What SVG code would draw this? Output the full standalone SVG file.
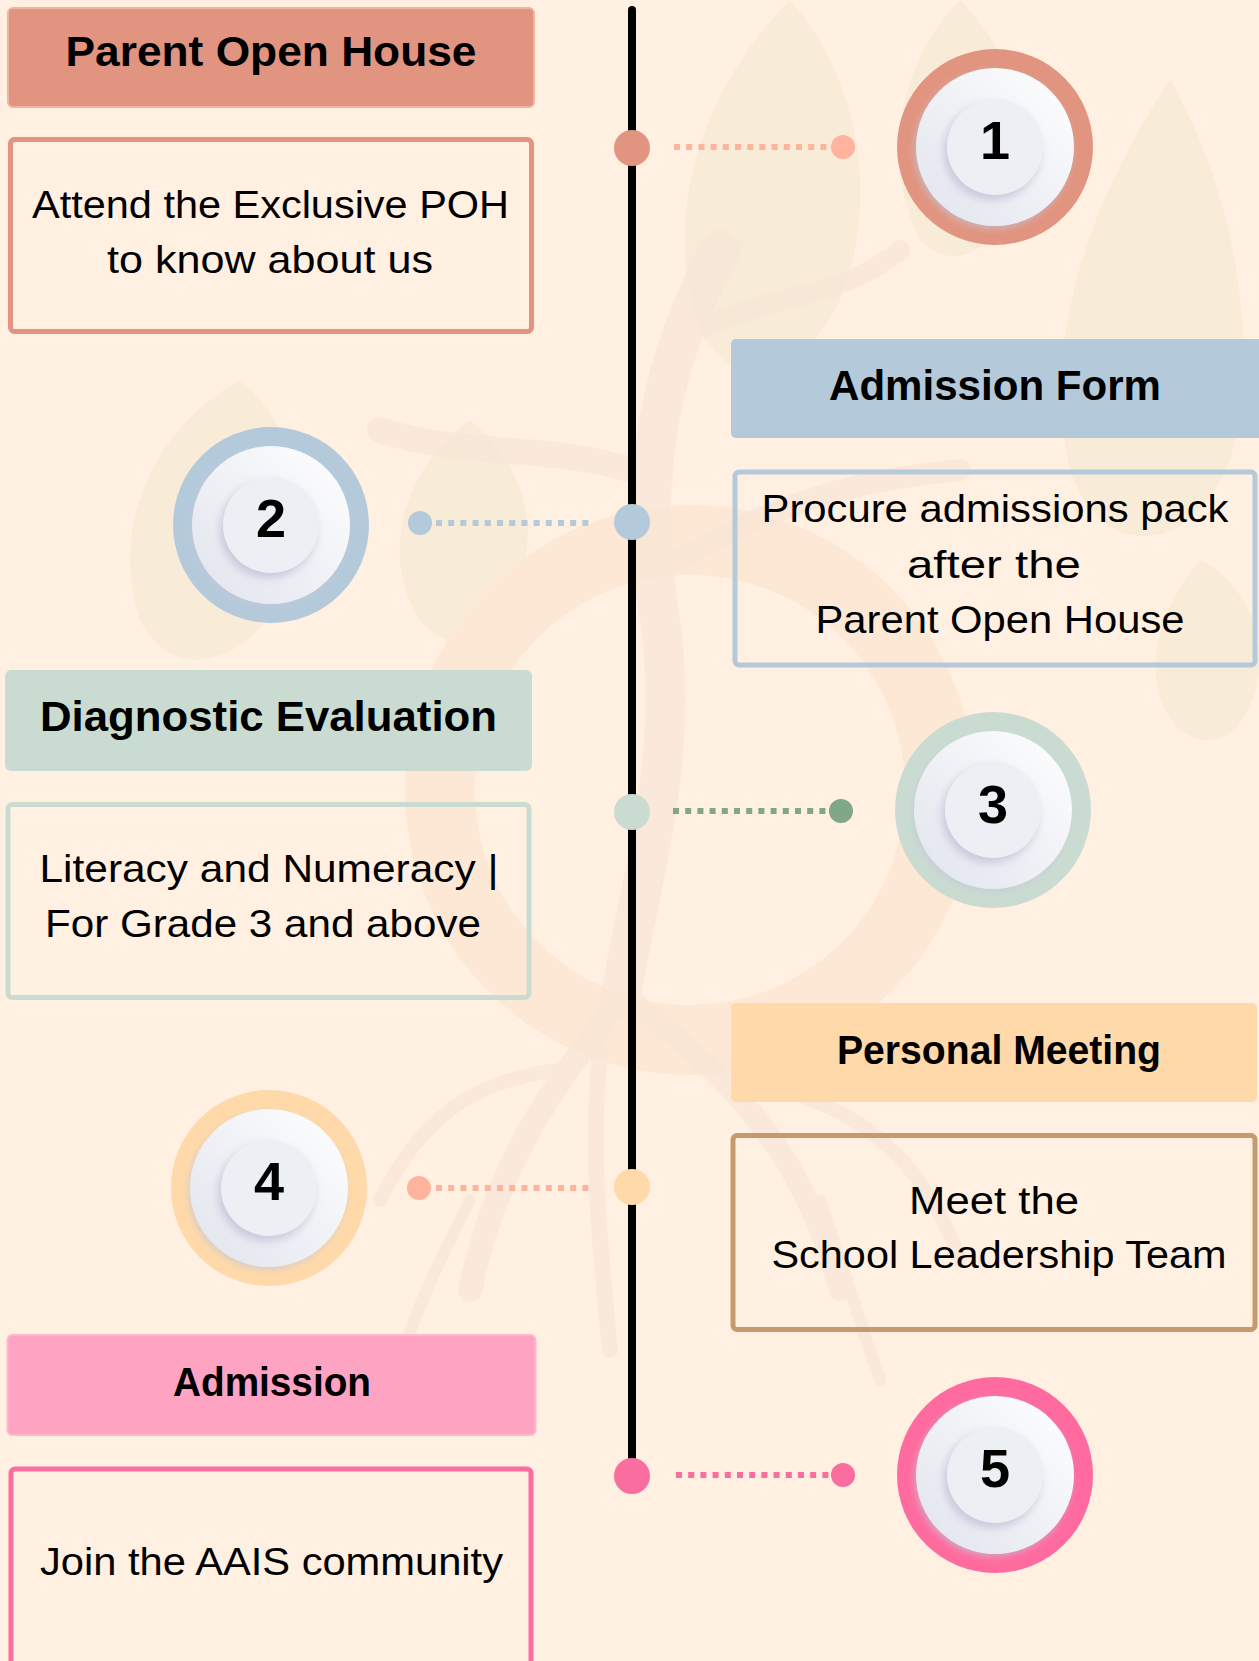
<svg xmlns="http://www.w3.org/2000/svg" width="1259" height="1661" viewBox="0 0 1259 1661">
  <style>
    .hdr { font-family: "Liberation Sans", Arial, sans-serif; font-weight: bold; fill: #000; text-anchor: middle; }
    .body { font-family: "Liberation Sans", Arial, sans-serif; font-size: 39px; fill: #000; text-anchor: middle; }
    .num { font-family: "Liberation Sans", Arial, sans-serif; font-weight: bold; font-size: 54px; fill: #000; text-anchor: middle; }
    .box { fill: none; stroke-width: 5; }
    .dotted { fill: none; stroke-width: 6; stroke-dasharray: 6 6.2; }
    .leaf { fill: #F6EAD4; }
    .trunk { fill: none; stroke: #F5E2D3; stroke-linecap: round; }
  </style>
  <defs>
    <linearGradient id="plate" x1="1" y1="0" x2="0" y2="1">
      <stop offset="0" stop-color="#FFFFFF"/>
      <stop offset="0.55" stop-color="#EEF0F5"/>
      <stop offset="1" stop-color="#E2E4EE"/>
    </linearGradient>
    <filter id="sh" x="-30%" y="-30%" width="160%" height="160%">
      <feDropShadow dx="-3" dy="5" stdDeviation="5" flood-color="#B9BCD2" flood-opacity="0.75"/>
    </filter>
    <filter id="sh2" x="-30%" y="-30%" width="160%" height="160%">
      <feDropShadow dx="-2" dy="3" stdDeviation="3" flood-color="#C3C6D8" flood-opacity="0.6"/>
    </filter>
  </defs>

  <!-- background -->
  <rect x="0" y="0" width="1259" height="1661" fill="#FFF0E1"/>
  <g id="background-tree" opacity="0.75">
    <path class="leaf" d="M790 0 C700 90 660 220 700 330 C740 400 800 380 840 300 C880 200 860 80 790 0 Z"/>
    <path class="leaf" d="M1170 80 C1090 200 1040 340 1070 470 C1100 560 1190 560 1230 460 C1260 360 1240 200 1170 80 Z"/>
    <path class="leaf" d="M960 0 C900 60 880 160 920 240 C960 280 1010 240 1020 170 C1030 100 1000 40 960 0 Z"/>
    <path class="leaf" d="M240 380 C150 430 110 530 140 620 C170 680 240 670 280 600 C320 520 300 430 240 380 Z"/>
    <path class="leaf" d="M470 420 C400 470 380 560 420 620 C450 660 500 640 520 580 C540 520 520 460 470 420 Z"/>
    <path class="leaf" d="M1200 560 C1150 620 1140 690 1180 730 C1220 760 1259 720 1259 660 C1259 620 1240 580 1200 560 Z"/>
    <circle cx="690" cy="790" r="250" fill="none" stroke="#FCE6D2" stroke-width="70"/>
    <g opacity="0.7">
      <path class="trunk" stroke-width="40" d="M720 250 C650 380 640 500 660 620 C680 760 640 880 620 1000"/>
      <path class="trunk" stroke-width="26" d="M660 480 C560 440 470 460 380 430"/>
      <path class="trunk" stroke-width="22" d="M680 560 C780 500 860 480 960 470"/>
      <path class="trunk" stroke-width="20" d="M700 330 C780 290 840 300 900 250"/>
      <path class="trunk" stroke-width="24" d="M620 1000 C560 1080 500 1150 470 1290"/>
      <path class="trunk" stroke-width="22" d="M630 1000 C720 1070 800 1140 840 1290"/>
      <path class="trunk" stroke-width="14" d="M560 1070 C470 1080 420 1120 380 1200"/>
      <path class="trunk" stroke-width="14" d="M740 1080 C850 1100 920 1150 960 1260"/>
      <path class="trunk" stroke-width="12" d="M470 1200 C440 1260 420 1300 400 1360"/>
      <path class="trunk" stroke-width="12" d="M820 1200 C840 1260 860 1320 880 1380"/>
      <path class="trunk" stroke-width="16" d="M600 1050 C590 1150 600 1250 610 1350"/>
    </g>
  </g>

  <!-- connectors -->
  <g id="connectors">
    <line x1="632" y1="10" x2="632" y2="1475" stroke="#000" stroke-width="8" stroke-linecap="round"/>
    <line class="dotted" x1="674" y1="147" x2="830" y2="147" stroke="#FFB29C"/>
    <circle cx="843" cy="147" r="12" fill="#FFB29C"/>
    <circle cx="632" cy="148" r="18" fill="#E19580"/>

    <line class="dotted" x1="436" y1="523" x2="590" y2="523" stroke="#B4CADB"/>
    <circle cx="420" cy="523" r="12" fill="#B4CADB"/>
    <circle cx="632" cy="522" r="18" fill="#B4CADB"/>

    <line class="dotted" x1="673" y1="811" x2="828" y2="811" stroke="#7FA788"/>
    <circle cx="841" cy="811" r="12" fill="#7FA788"/>
    <circle cx="632" cy="812" r="18" fill="#CADCD1"/>

    <line class="dotted" x1="436" y1="1188" x2="590" y2="1188" stroke="#FFB29C"/>
    <circle cx="419" cy="1188" r="12" fill="#FFB29C"/>
    <circle cx="632" cy="1187" r="18" fill="#FFD9A9"/>

    <line class="dotted" x1="676" y1="1475" x2="830" y2="1475" stroke="#FA6E9F"/>
    <circle cx="843" cy="1475" r="12" fill="#FA6E9F"/>
    <circle cx="632" cy="1476" r="18" fill="#FA6E9F"/>
  </g>

  <!-- step 1 -->
  <g id="step1-header">
    <rect x="8" y="8" width="526" height="99" rx="5" fill="#E19580" stroke="#F2B3A5" stroke-width="2"/>
    <text class="hdr" x="271" y="66" font-size="42" textLength="411" lengthAdjust="spacingAndGlyphs">Parent Open House</text>
  </g>
  <g id="step1-body">
    <rect class="box" x="10.5" y="139.5" width="521" height="192" rx="4" stroke="#E19580"/>
    <text class="body" x="270.5" y="218" textLength="477" lengthAdjust="spacingAndGlyphs">Attend the Exclusive POH</text>
    <text class="body" x="270" y="273" textLength="326" lengthAdjust="spacingAndGlyphs">to know about us</text>
  </g>
  <g id="step1-circle">
    <circle cx="995" cy="147" r="98" fill="#E19580"/>
    <circle cx="995" cy="147" r="79" fill="url(#plate)" filter="url(#sh2)"/>
    <circle cx="995" cy="147" r="48" fill="#ECEFF3" filter="url(#sh)"/>
    <text class="num" x="995" y="159">1</text>
  </g>

  <!-- step 2 -->
  <g id="step2-header">
    <rect x="731" y="339" width="540" height="99" rx="5" fill="#B4CADB"/>
    <text class="hdr" x="995" y="400" font-size="42" textLength="332" lengthAdjust="spacingAndGlyphs">Admission Form</text>
  </g>
  <g id="step2-body">
    <rect class="box" x="735" y="472" width="520" height="193" rx="4" stroke="#B4CADB"/>
    <text class="body" x="995" y="522" textLength="467" lengthAdjust="spacingAndGlyphs">Procure admissions pack</text>
    <text class="body" x="994" y="578" textLength="174" lengthAdjust="spacingAndGlyphs">after the</text>
    <text class="body" x="1000" y="633" textLength="369" lengthAdjust="spacingAndGlyphs">Parent Open House</text>
  </g>
  <g id="step2-circle">
    <circle cx="271" cy="525" r="98" fill="#B4CADB"/>
    <circle cx="271" cy="525" r="79" fill="url(#plate)" filter="url(#sh2)"/>
    <circle cx="271" cy="525" r="48" fill="#ECEFF3" filter="url(#sh)"/>
    <text class="num" x="271" y="537">2</text>
  </g>

  <!-- step 3 -->
  <g id="step3-header">
    <rect x="5" y="670" width="527" height="101" rx="6" fill="#CADCD1"/>
    <text class="hdr" x="268.5" y="731" font-size="42" textLength="457" lengthAdjust="spacingAndGlyphs">Diagnostic Evaluation</text>
  </g>
  <g id="step3-body">
    <rect class="box" x="8" y="804.5" width="521" height="193" rx="4" stroke="#CADCD1"/>
    <text class="body" x="269" y="882" textLength="459" lengthAdjust="spacingAndGlyphs">Literacy and Numeracy |</text>
    <text class="body" x="263" y="937" textLength="436" lengthAdjust="spacingAndGlyphs">For Grade 3 and above</text>
  </g>
  <g id="step3-circle">
    <circle cx="993" cy="810" r="98" fill="#CADCD1"/>
    <circle cx="993" cy="810" r="79" fill="url(#plate)" filter="url(#sh2)"/>
    <circle cx="993" cy="810" r="48" fill="#ECEFF3" filter="url(#sh)"/>
    <text class="num" x="993" y="823">3</text>
  </g>

  <!-- step 4 -->
  <g id="step4-header">
    <rect x="731" y="1003" width="526" height="99" rx="5" fill="#FFD9A9"/>
    <text class="hdr" x="999" y="1064" font-size="40" textLength="324" lengthAdjust="spacingAndGlyphs">Personal Meeting</text>
  </g>
  <g id="step4-body">
    <rect class="box" x="733" y="1135.5" width="522" height="194" rx="4" stroke="#C49B6E"/>
    <text class="body" x="994" y="1214" textLength="170" lengthAdjust="spacingAndGlyphs">Meet the</text>
    <text class="body" x="999" y="1268" textLength="455" lengthAdjust="spacingAndGlyphs">School Leadership Team</text>
  </g>
  <g id="step4-circle">
    <circle cx="269" cy="1188" r="98" fill="#FFD9A9"/>
    <circle cx="269" cy="1188" r="79" fill="url(#plate)" filter="url(#sh2)"/>
    <circle cx="269" cy="1188" r="48" fill="#ECEFF3" filter="url(#sh)"/>
    <text class="num" x="269" y="1200">4</text>
  </g>

  <!-- step 5 -->
  <g id="step5-header">
    <rect x="7.5" y="1335" width="528" height="100" rx="5" fill="#FFA3C2" stroke="#FFB7CF" stroke-width="2"/>
    <text class="hdr" x="272" y="1396" font-size="40" textLength="198" lengthAdjust="spacingAndGlyphs">Admission</text>
  </g>
  <g id="step5-body">
    <rect class="box" x="11" y="1469" width="520" height="230" rx="4" stroke="#FA6E9F"/>
    <text class="body" x="271.5" y="1575" textLength="463" lengthAdjust="spacingAndGlyphs">Join the AAIS community</text>
  </g>
  <g id="step5-circle">
    <circle cx="995" cy="1475" r="98" fill="#FF6B9E"/>
    <circle cx="995" cy="1475" r="79" fill="url(#plate)" filter="url(#sh2)"/>
    <circle cx="995" cy="1475" r="48" fill="#ECEFF3" filter="url(#sh)"/>
    <text class="num" x="995" y="1487">5</text>
  </g>
</svg>
